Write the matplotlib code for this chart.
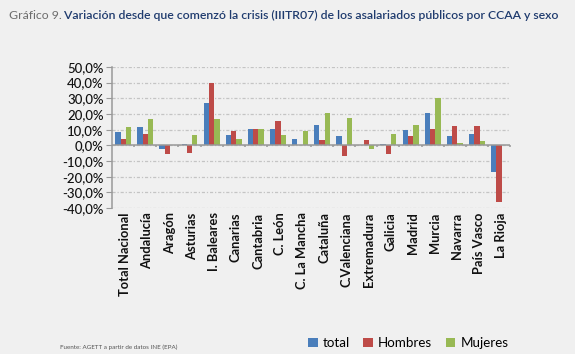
import numpy as np
import matplotlib
matplotlib.use('Agg')
import matplotlib.pyplot as plt
from matplotlib.transforms import blended_transform_factory

plt.rcParams['font.family'] = ['Lato', 'DejaVu Sans']

#Data
regions = ['Total Nacional', 'Andalucía', 'Aragón', 'Asturias', 'I. Baleares',
           'Canarias', 'Cantabria', 'C. León', 'C. La Mancha', 'Cataluña',
           'C.Valenciana', 'Extremadura', 'Galicia', 'Madrid', 'Murcia',
           'Navarra', 'País Vasco', 'La Rioja']
total = [8.3, 11.8, -2.4, 0.7, 27.2, 6.4, 10.5, 10.5, 4.2, 13.2,
         5.7, 0.2, 0.7, 9.9, 20.4, 5.7, 7.0, -16.7]
hombres = [4.2, 7.5, -5.5, -4.8, 40.0, 9.2, 10.5, 15.4, 0.0, 3.5,
           -7.0, 3.5, -5.5, 5.7, 10.3, 12.5, 12.5, -36.0]
mujeres = [11.8, 16.7, 0.0, 6.4, 16.7, 4.2, 10.5, 6.4, 9.2, 20.4,
           17.5, -2.6, 7.0, 13.2, 30.3, 1.3, 2.9, 0.2]
yticks = np.arange(-40, 51, 10)

#Colours
c_total = '#4a7ebb'
c_hom = '#be4b48'
c_muj = '#98b954'
bg = '#f0f0f0'

fig = plt.figure(figsize=(5.75, 3.54), dpi=100, facecolor=bg)
ax = fig.add_axes([0.195, 0.412, 0.692, 0.399], facecolor=bg)

x = np.arange(len(regions))
w = 0.24
ax.bar(x - w, total, w, color=c_total, label='total', zorder=3)
ax.bar(x, hombres, w, color=c_hom, label='Hombres', zorder=3)
ax.bar(x + w, mujeres, w, color=c_muj, label='Mujeres', zorder=3)

ax.set_xlim(-0.5, len(regions) - 0.5)
ax.set_ylim(-40, 50)
ax.set_yticks(yticks)
ax.set_yticklabels([('%.1f%%' % v).replace('.', ',') for v in yticks],
                   fontsize=9.5, color='#111111', fontweight='medium')
ax.tick_params(axis='y', length=4, color='#999999', pad=2)
ax.yaxis.grid(True, color='#c4c4c4', linestyle=(0, (2.5, 1.5, 1, 1.5)), linewidth=0.9, zorder=0)

#Spines
for s in ['top', 'right', 'bottom']:
    ax.spines[s].set_visible(False)
ax.spines['left'].set_color('#999999')
ax.spines['left'].set_linewidth(1.1)

#Zero line with category separator ticks
ax.axhline(0, color='#999999', linewidth=1.1, zorder=4)
bounds = np.arange(len(regions) + 1) - 0.5
ax.vlines(bounds[1:], -1.3, 0, color='#999999', linewidth=1.1, zorder=4, clip_on=False)

#Category labels below plot area
ax.set_xticks([])
trans = blended_transform_factory(ax.transData, ax.transAxes)
for xi, name in zip(x, regions):
    ax.text(xi + 0.1, -0.03, name, transform=trans, rotation=90, ha='center', va='top',
            fontsize=9.3, fontweight='bold', color='#111111')

#Title
t1 = fig.text(0.015, 0.955, 'Gráfico 9.', fontsize=8.85, color='#6d6d6d', va='center')
ax.annotate(' Variación desde que comenzó la crisis (IIITR07) de los asalariados públicos por CCAA y sexo',
            xy=(1, 0.5), xycoords=t1, va='center', ha='left',
            fontsize=8.85, color='#1f3b6e', fontweight='semibold', annotation_clip=False)

#Legend
fig.legend(loc='center', bbox_to_anchor=(0.71, 0.03), ncol=3, frameon=False,
           fontsize=9.6, handlelength=0.7, handleheight=0.7, handletextpad=0.4,
           columnspacing=1.0)

#Source
fig.text(0.105, 0.018, 'Fuente: AGETT a partir de datos INE (EPA)', fontsize=4.5,
         color='#555555', va='center')

plt.savefig('out.png', dpi=100, facecolor=bg)
